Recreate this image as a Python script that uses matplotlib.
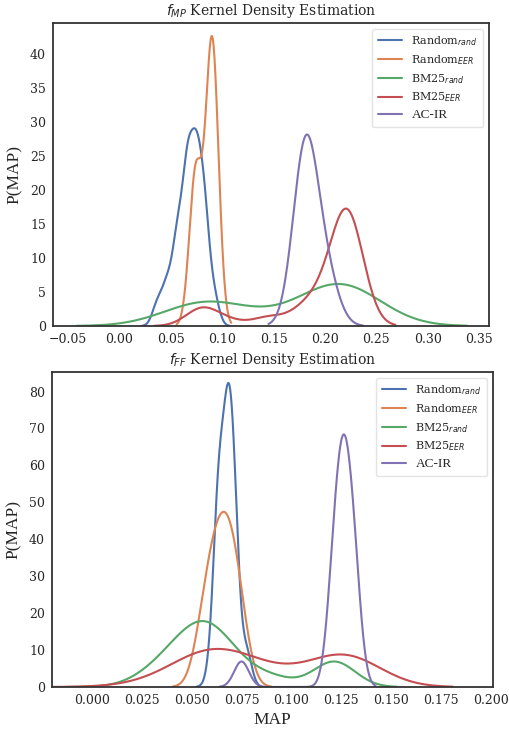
import numpy as np
import matplotlib
matplotlib.use("Agg")
import matplotlib.pyplot as plt
import seaborn as sns

# ---------------- data: per-method MAP values (with counts) + KDE bandwidth ----------------
labels = ["Random$_{rand}$", "Random$_{EER}$", "BM25$_{rand}$", "BM25$_{EER}$", "AC-IR"]

# f_MP
mp_random_rand_map = [0.037, 0.0465, 0.0565, 0.066, 0.0745, 0.0825, 0.092]
mp_random_rand_cnt = [4, 7, 15, 25, 25, 19, 5]
mp_random_rand_bw = 0.005

mp_random_eer_map = [0.0742, 0.0902]
mp_random_eer_cnt = [35, 65]
mp_random_eer_bw = 0.0062

mp_bm25_rand_map = [0.075, 0.095, 0.143, 0.208, 0.221]
mp_bm25_rand_cnt = [20, 14, 6, 30, 30]
mp_bm25_rand_bw = 0.039

mp_bm25_eer_map = [0.080, 0.105, 0.145, 0.179, 0.199, 0.222]
mp_bm25_eer_cnt = [10, 3, 5, 8, 12, 64]
mp_bm25_eer_bw = 0.0155

mp_acir_map = [0.181, 0.201]
mp_acir_cnt = [79, 21]
mp_acir_bw = 0.012

# f_FF
ff_random_rand_map = [0.0600, 0.0635, 0.0680, 0.0713, 0.0775]
ff_random_rand_cnt = [3, 30, 35, 25, 6]
ff_random_rand_bw = 0.0026

ff_random_eer_map = [0.0555, 0.0605, 0.0655, 0.0705, 0.0750]
ff_random_eer_cnt = [14, 22, 27, 25, 12]
ff_random_eer_bw = 0.005

ff_bm25_rand_map = [0.018, 0.028, 0.038, 0.048, 0.058, 0.068, 0.078, 0.091, 0.1215]
ff_bm25_rand_cnt = [1, 5, 11, 19, 25, 14, 5, 6, 19]
ff_bm25_rand_bw = 0.0105

ff_bm25_eer_map = [0.028, 0.054, 0.075, 0.100, 0.127]
ff_bm25_eer_cnt = [3, 31, 24, 7, 38]
ff_bm25_eer_bw = 0.018

ff_acir_map = [0.075, 0.1215, 0.1262, 0.1312]
ff_acir_cnt = [6.5, 25, 42, 28]
ff_acir_bw = 0.0037

mp_series = [
    (mp_random_rand_map, mp_random_rand_cnt, mp_random_rand_bw),
    (mp_random_eer_map, mp_random_eer_cnt, mp_random_eer_bw),
    (mp_bm25_rand_map, mp_bm25_rand_cnt, mp_bm25_rand_bw),
    (mp_bm25_eer_map, mp_bm25_eer_cnt, mp_bm25_eer_bw),
    (mp_acir_map, mp_acir_cnt, mp_acir_bw),
]
ff_series = [
    (ff_random_rand_map, ff_random_rand_cnt, ff_random_rand_bw),
    (ff_random_eer_map, ff_random_eer_cnt, ff_random_eer_bw),
    (ff_bm25_rand_map, ff_bm25_rand_cnt, ff_bm25_rand_bw),
    (ff_bm25_eer_map, ff_bm25_eer_cnt, ff_bm25_eer_bw),
    (ff_acir_map, ff_acir_cnt, ff_acir_bw),
]


def kde_curve(vals, cnts, bw, cut=3, gridsize=200):
    v = np.asarray(vals, float)
    w = np.asarray(cnts, float)
    w = w / w.sum()
    grid = np.linspace(v.min() - cut * bw, v.max() + cut * bw, gridsize)
    z = (grid[:, None] - v[None, :]) / bw
    dens = (w[None, :] * np.exp(-0.5 * z ** 2)).sum(axis=1) / (bw * np.sqrt(2 * np.pi))
    return grid, dens


sns.set_style("white")
plt.rcParams["font.family"] = ["DejaVu Serif"]
plt.rcParams["mathtext.fontset"] = "dejavusans"
plt.rcParams["axes.edgecolor"] = "#333333"
plt.rcParams["axes.linewidth"] = 1.3

colors = sns.color_palette("deep", 5)

fig = plt.figure(figsize=(5.09, 7.32), dpi=100)
ax1 = fig.add_axes([0.10413, 0.55464, 0.85658, 0.41393])
ax2 = fig.add_axes([0.10216, 0.06148, 0.86640, 0.43033])


def draw(ax, series, title, xlim, ylim):
    for (vals, cnts, bw), lab, c in zip(series, labels, colors):
        x, y = kde_curve(vals, cnts, bw)
        ax.plot(x, y, color=c, lw=1.5, label=lab)
    ax.set_xlim(*xlim)
    ax.set_ylim(*ylim)
    ax.set_title(title, fontsize=10, pad=6)
    ax.tick_params(axis="both", labelsize=9, length=0, pad=5)
    ax.set_ylabel("P(MAP)", family="Liberation Serif", fontsize=12.5, labelpad=5)
    leg = ax.legend(loc="upper right", fontsize=8, frameon=True,
                    handlelength=2.2, labelspacing=0.45, borderpad=0.5)
    leg.get_frame().set_edgecolor("#dddddd")
    leg.get_texts()[4].set_fontfamily("Liberation Serif")
    leg.get_texts()[4].set_fontsize(9.5)
    return ax


draw(ax1, mp_series, "$f_{MP}$ Kernel Density Estimation", (-0.0647, 0.3596), (0, 44.6))
ax1.set_xticks(np.arange(-0.05, 0.351, 0.05))
ax1.set_yticks(np.arange(0, 41, 5))

draw(ax2, ff_series, "$f_{FF}$ Kernel Density Estimation", (-0.0201, 0.2012), (0, 85.3))
ax2.set_xticks(np.arange(0.0, 0.2001, 0.025))
ax2.set_yticks(np.arange(0, 81, 10))
ax2.set_xlabel("MAP", family="Liberation Serif", fontsize=12.5, labelpad=4)

fig.savefig("out.png", dpi=100)
